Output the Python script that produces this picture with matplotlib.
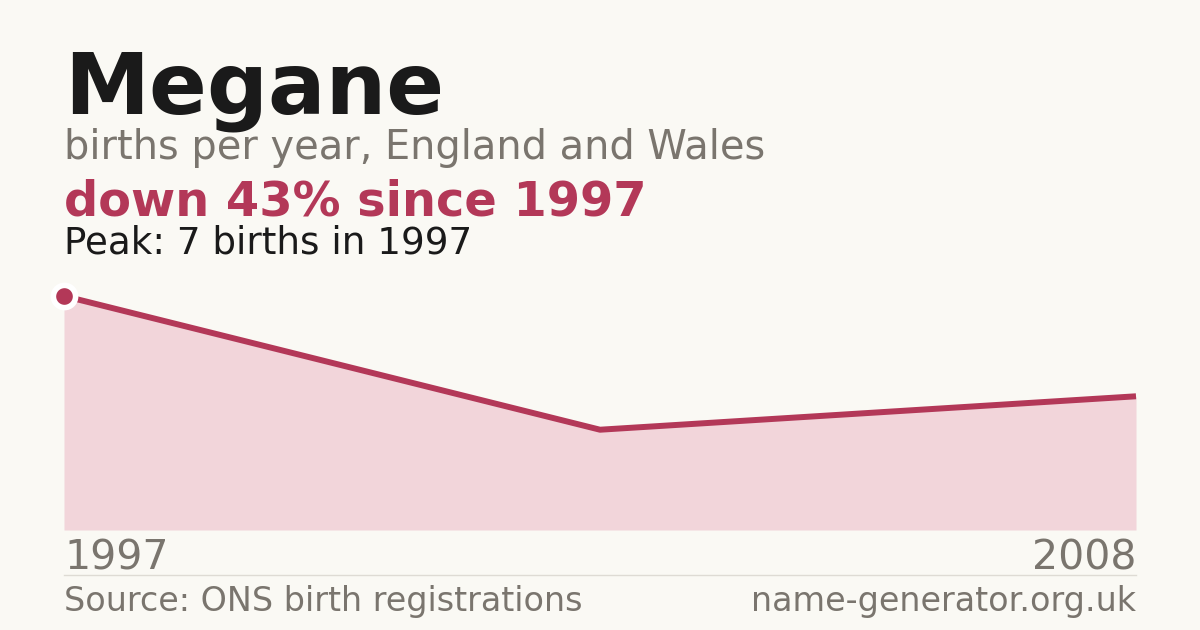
import matplotlib
matplotlib.use("Agg")
import matplotlib.pyplot as plt

# Data
years = [1997, 2003, 2008]
births = [7, 3, 4]
tick_labels = ["1997", "2008"]
name = "Megane"
subtitle = "births per year, England and Wales"
headline = "down 43% since 1997"
peak_text = "Peak: 7 births in 1997"
source = "Source: ONS birth registrations"
site = "name-generator.org.uk"

BG = "#faf9f4"
RED = "#b33858"
FILL = "#f2d5da"
GRAY = "#7a756e"
DARK = "#1a1a1a"

W, H = 1200, 630
fig = plt.figure(figsize=(W / 100, H / 100), dpi=100, facecolor=BG)
plt.rcParams['font.family'] = ['DejaVu Sans']

def fx(px):
    return px / W

def fy(py):
    return 1 - py / H

ax = fig.add_axes([fx(64), fy(530), fx(1136) - fx(64), fy(296) - fy(530)])
ax.set_facecolor(BG)
xs = list(range(len(years)))
ax.fill_between(xs, births, 0, color=FILL, linewidth=0)
ax.plot(xs, births, color=RED, linewidth=4.3, solid_capstyle='butt', clip_on=False)
ax.plot([xs[0]], [births[0]], 'o', color=RED, markersize=16, markeredgecolor='white',
        markeredgewidth=4, clip_on=False, zorder=5)
ax.set_xlim(xs[0], xs[-1])
ax.set_ylim(0, max(births))
ax.axis('off')

fig.text(fx(64), fy(113), name, fontsize=61.5, fontweight='bold', color=DARK, va='baseline', ha='left')
fig.text(fx(64), fy(159), subtitle, fontsize=28.7, color=GRAY, va='baseline', ha='left')
fig.text(fx(64), fy(215), headline, fontsize=34.5, fontweight='bold', color=RED, va='baseline', ha='left')
fig.text(fx(64), fy(253), peak_text, fontsize=26.8, color=DARK, va='baseline', ha='left')

fig.text(fx(64), fy(570), tick_labels[0], fontsize=29.5, color=GRAY, va='baseline', ha='left')
fig.text(fx(1136), fy(570), tick_labels[1], fontsize=29.5, color=GRAY, va='baseline', ha='right')

fig.add_artist(plt.Line2D([fx(64), fx(1136)], [fy(574.5), fy(574.5)], color="#dedbd4", linewidth=1))

fig.text(fx(64), fy(611), source, fontsize=24, color=GRAY, va='baseline', ha='left')
fig.text(fx(1136), fy(611), site, fontsize=24, color=GRAY, va='baseline', ha='right')

fig.savefig("out.png", dpi=100, facecolor=BG)
